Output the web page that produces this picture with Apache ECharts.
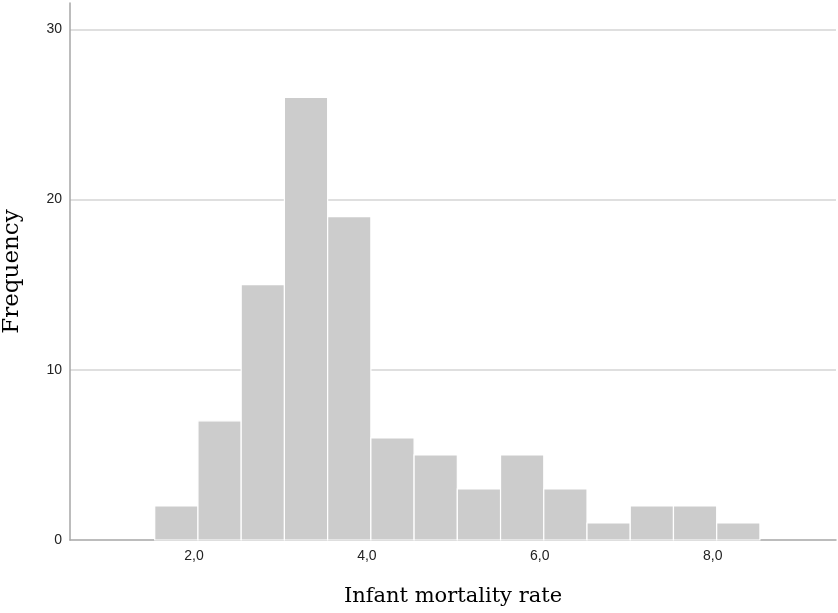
<!DOCTYPE html>
<html>
<head>
<meta charset="utf-8">
<script src="https://cdn.jsdelivr.net/npm/echarts@6/dist/echarts.min.js"></script>
<style>html,body{margin:0;padding:0;background:#fff}#c{width:838px;height:613px}</style>
</head>
<body>
<div id="c"></div>
<script>
// Histogram bins (Infant mortality rate), bin width 0.5
var binStarts = [1.5, 2.0, 2.5, 3.0, 3.5, 4.0, 4.5, 5.0, 5.5, 6.0, 6.5, 7.0, 7.5, 8.0];
var binEnds   = [2.0, 2.5, 3.0, 3.5, 4.0, 4.5, 5.0, 5.5, 6.0, 6.5, 7.0, 7.5, 8.0, 8.5];
var frequencies = [2, 7, 15, 26, 19, 6, 5, 3, 5, 3, 1, 2, 2, 1];
var xTickValues = [2, 4, 6, 8];
var yTickValues = [0, 10, 20, 30];
var xTitle = 'Infant mortality rate';
var yTitle = 'Frequency';

var data = binStarts.map(function (s, i) { return [s, binEnds[i], frequencies[i]]; });

var chart = echarts.init(document.getElementById('c'), null, {renderer: 'canvas'});
chart.setOption({
  animation: false,
  backgroundColor: '#ffffff',
  grid: {left: 70, right: 2, top: 3, bottom: 73, containLabel: false, outerBoundsMode: 'none'},
  xAxis: {
    type: 'value',
    min: 0.52, max: 9.38,
    name: xTitle,
    nameLocation: 'middle',
    nameGap: 46,
    nameTextStyle: {fontFamily: 'DejaVu Serif', fontSize: 21, color: '#000'},
    axisLine: {show: true, onZero: false, lineStyle: {color: '#a6a6a6', width: 1.5}},
    axisTick: {show: false},
    splitLine: {show: false},
    axisLabel: {
      customValues: xTickValues,
      formatter: function (v) { return v.toFixed(1).replace('.', ','); },
      fontFamily: 'Liberation Sans', fontSize: 14, color: '#222',
      margin: 9, padding: [0, 8, 0, 0]
    }
  },
  yAxis: {
    type: 'value',
    min: 0, max: 31.55, interval: 10,
    name: yTitle,
    nameLocation: 'middle',
    nameGap: 46,
    nameTextStyle: {fontFamily: 'DejaVu Serif', fontSize: 23, color: '#000'},
    axisLine: {show: true, lineStyle: {color: '#a6a6a6', width: 1.5}},
    axisTick: {show: false},
    axisLabel: {
      customValues: yTickValues,
      fontFamily: 'Liberation Sans', fontSize: 14, color: '#222', margin: 8
    },
    splitLine: {show: true, showMinLine: false, showMaxLine: false, lineStyle: {color: '#d4d4d4', width: 1.5}}
  },
  series: [{
    type: 'custom',
    data: data,
    encode: {x: [0, 1], y: 2},
    renderItem: function (params, api) {
      var p0 = api.coord([api.value(0), api.value(2)]);
      var p1 = api.coord([api.value(1), 0]);
      return {
        type: 'rect',
        shape: {x: p0[0], y: p0[1], width: p1[0] - p0[0], height: p1[1] - p0[1]},
        style: {fill: '#cccccc', stroke: '#ffffff', lineWidth: 1.2}
      };
    }
  }]
});
</script>
</body>
</html>
